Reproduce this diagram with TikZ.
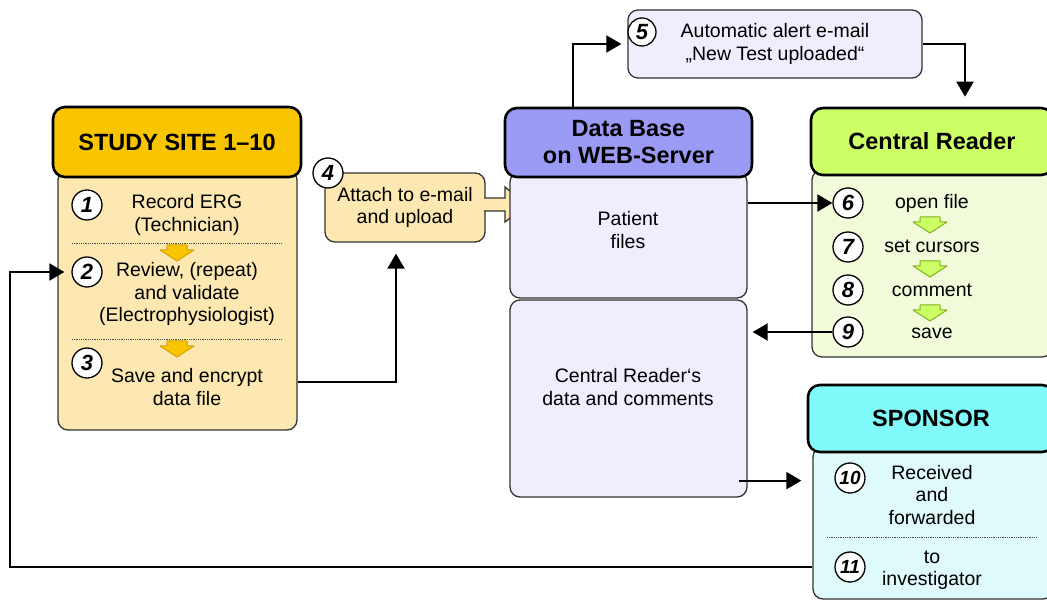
\documentclass[tikz,border=0pt]{standalone}
\usepackage{fontspec}
\setmainfont{Liberation Sans}
\usetikzlibrary{arrows.meta,calc,positioning}

\definecolor{sitehead}{RGB}{249,196,0}
\definecolor{sitebody}{RGB}{252,232,176}
\definecolor{sitetip}{RGB}{214,160,0}
\definecolor{dbhead}{RGB}{155,155,245}
\definecolor{dbbody}{RGB}{238,238,252}
\definecolor{crhead}{RGB}{204,255,102}
\definecolor{crbody}{RGB}{241,251,218}
\definecolor{crtip}{RGB}{130,180,30}
\definecolor{sphead}{RGB}{128,250,250}
\definecolor{spbody}{RGB}{222,250,250}

\tikzset{
  head/.style={draw=black, line width=2.6pt, rounded corners=12pt, align=center,
    font=\fontsize{23.5}{27}\selectfont\bfseries},
  panel/.style={draw=black!80, line width=1.3pt, rounded corners=10pt},
  numdot/.style={circle, draw=black, line width=1.3pt, fill=white, minimum size=30pt,
    inner sep=0pt, font=\fontsize{22}{22}\selectfont\bfseries\itshape},
  txt/.style={align=center, font=\fontsize{19.5}{22.5}\selectfont},
  flow/.style={line width=2pt, -{Triangle[length=15pt,width=17pt]}},
  sepline/.style={densely dotted, line width=0.8pt, black!70},
  pics/dropdown/.style={code={
    \draw[line width=1pt, line join=round, #1] (-10,0) -- (10,0) -- (10,5) -- (17,5)
      -- (0,16) -- (-17,5) -- (-10,5) -- cycle;}},
}

\begin{document}
\begin{tikzpicture}[x=1pt, y=-1pt]
\useasboundingbox (0,0) rectangle (1047,601);
%
% Study site
\node[panel, fill=sitebody, minimum width=239pt, minimum height=260pt] (sitebody) at (177.5,300) {};
\node[head, fill=sitehead, minimum width=248pt, minimum height=70pt] (sitehead) at (177,142) {STUDY SITE 1--10};
\draw[sepline] (72,243) -- (282,243);
\draw[sepline] (72,339) -- (282,339);
\pic at (177,245) {dropdown={fill=sitehead, draw=sitetip}};
\pic at (177,341) {dropdown={fill=sitehead, draw=sitetip}};
\node[numdot] (n1) at (87,205) {1};
\node[numdot] (n2) at (87,272) {2};
\node[numdot] (n3) at (87,363) {3};
\node[txt] (t1) at (187,215) {Record ERG\\(Technician)};
\node[txt] (t2) at (187,294) {Review, (repeat)\\and validate\\(Electrophysiologist)};
\node[txt] (t3) at (187,387) {Save and encrypt\\data file};
%
% Upload box
\node[panel, txt, fill=sitebody, minimum width=160pt, minimum height=69pt] (attach) at (405,207.5) {Attach to e-mail\\and upload};
\fill[sitebody] (480,198) -- (505,198) -- (505,187) -- (527,205) -- (505,222) -- (505,211) -- (480,211) -- cycle;
\draw[line width=1.3pt, black!80] (484,198) -- (505,198) -- (505,187) -- (527,205) -- (505,222) -- (505,211) -- (484,211);
\node[numdot] (n4) at (328,173) {4};
%
% Data base
\node[panel, fill=dbbody, minimum width=237pt, minimum height=126pt] (patient) at (628.5,235) {};
\node[panel, fill=dbbody, minimum width=237pt, minimum height=197pt] (crdata) at (628.5,398.5) {};
\node[head, fill=dbhead, minimum width=247pt, minimum height=69pt] (dbhead) at (628.5,142.5) {Data Base\\on WEB-Server};
\node[txt] (tp) at (628,230) {Patient\\files};
\node[txt] (tc) at (628,387) {Central Reader‘s\\data and comments};
%
% Alert
\node[panel, txt, fill=dbbody, minimum width=294pt, minimum height=68pt] (alert) at (775,44) {Automatic alert e-mail\\„New Test uploaded“};
\node[numdot, minimum size=28pt] (n5) at (642,32) {5};
%
% Central reader
\node[panel, fill=crbody, minimum width=240pt, minimum height=187pt] (crbody) at (932,263.5) {};
\node[head, fill=crhead, minimum width=242pt, minimum height=67pt] (crhead) at (932,141.5) {Central Reader};
\pic at (930,217) {dropdown={fill=crhead, draw=crtip}};
\pic at (930,261) {dropdown={fill=crhead, draw=crtip}};
\pic at (930,305) {dropdown={fill=crhead, draw=crtip}};
\node[numdot] (n6) at (848,203) {6};
\node[numdot] (n7) at (848,247) {7};
\node[numdot] (n8) at (848,290) {8};
\node[numdot] (n9) at (848,332) {9};
\node[txt] (t6) at (932,203) {open file};
\node[txt] (t7) at (932,246) {set cursors};
\node[txt] (t8) at (932,290) {comment};
\node[txt] (t9) at (932,333) {save};
%
% Sponsor
\node[panel, fill=spbody, minimum width=240pt, minimum height=152pt] (spbody) at (933,523) {};
\node[head, fill=sphead, minimum width=246pt, minimum height=67pt] (sphead) at (931,418.5) {SPONSOR};
\draw[sepline] (827,537) -- (1037,537);
\node[numdot, font=\fontsize{19}{19}\selectfont\bfseries\itshape] (n10) at (850,478) {10};
\node[numdot, font=\fontsize{19}{19}\selectfont\bfseries\itshape] (n11) at (850,567) {11};
\node[txt] (t10) at (932,495) {Received\\and\\forwarded};
\node[txt] (t11) at (932,570) {to\\investigator};
%
% Segments
\draw[flow] ($(sitebody.east)+(0,82)$) -| ($(attach.south)+(-9,11)$);
\draw[flow, shorten >=6pt] ($(dbhead.north)+(-56,0)$) |- (alert.west);
\draw[flow, shorten >=10pt] (alert.east) -| ($(crhead.north)+(33,0)$);
\draw[flow] (patient.east |- n6) -- (n6.west);
\draw[flow, shorten >=5pt] (n9.west) -- (crdata.east |- n9);
\draw[flow, shorten >=11pt] ($(crdata.south east)+(-9,-17)$) coordinate (fwd) -- (spbody.west |- fwd);
\draw[flow, shorten >=7pt] (spbody.west |- n11) -| ($(n2)+(-77,0)$) -- (n2.west);
\end{tikzpicture}
\end{document}
